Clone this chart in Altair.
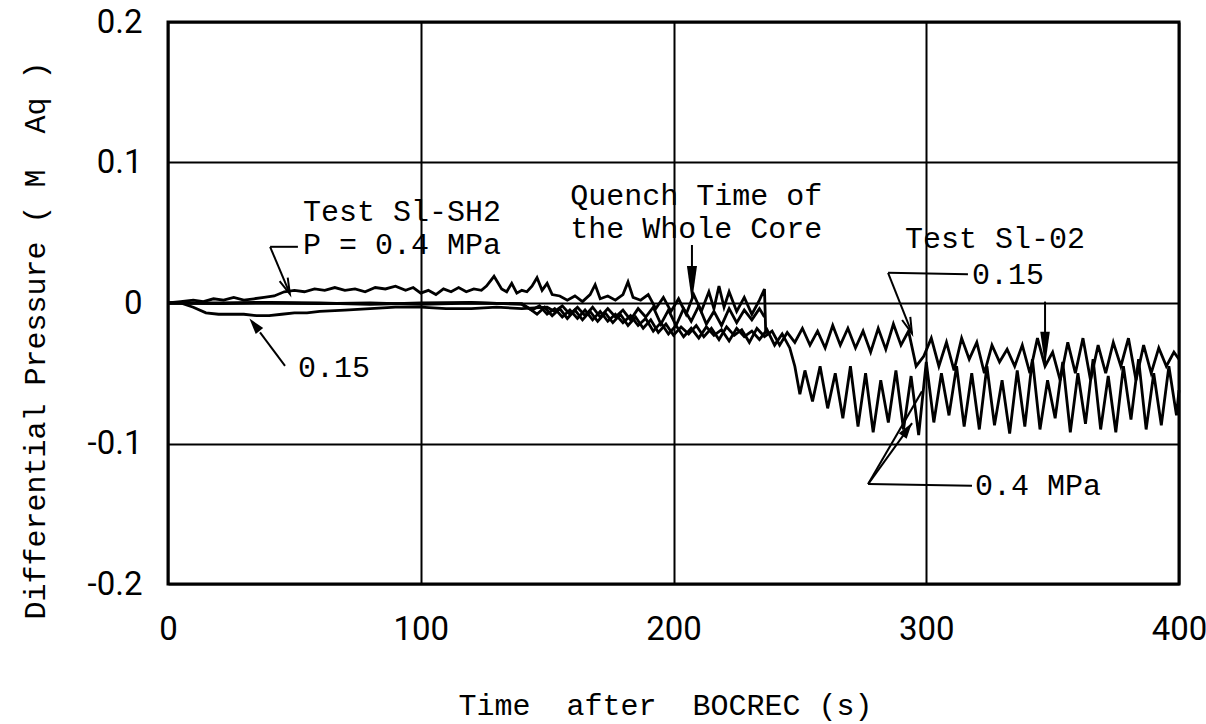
import altair as alt
import pandas as pd

# Differential pressure traces, (time s, pressure m Aq)
SH2_P04 = [
    (0, 0.0), (5, 0.001), (10, 0.002), (14, 0.001), (18, 0.003), (22, 0.002), (26, 0.004),
    (30, 0.002), (34, 0.003), (38, 0.004), (42, 0.005), (46, 0.008), (50, 0.009), (54, 0.008),
    (58, 0.010), (62, 0.009), (66, 0.011), (70, 0.009), (74, 0.010), (78, 0.008), (82, 0.011),
    (86, 0.010), (90, 0.012), (94, 0.009), (97, 0.011), (100, 0.007), (103, 0.009), (106, 0.006),
    (109, 0.010), (112, 0.008), (115, 0.011), (118, 0.008), (121, 0.010), (124, 0.009),
    (126, 0.012), (129, 0.019), (132, 0.010), (134, 0.008), (136, 0.014), (138, 0.007),
    (140, 0.009), (142, 0.008), (144, 0.012), (146, 0.018), (148, 0.009), (150, 0.014),
    (152, 0.006), (155, 0.005), (158, 0.002), (161, 0.005), (164, 0.001), (167, 0.006),
    (169, 0.013), (171, 0.003), (174, 0.005), (177, 0.002), (180, 0.006), (182, 0.015),
    (184, 0.004), (187, 0.002), (190, 0.006), (193, -0.004), (196, 0.004), (199, -0.006),
    (202, 0.003), (205, -0.008), (208, 0.006), (211, -0.006), (214, 0.008), (216, -0.004),
    (218, 0.012), (220, -0.003), (222, 0.008), (225, -0.006), (228, 0.004), (231, -0.008),
    (234, 0.002), (236, 0.010), (236.5, -0.022),
]

SH2_P015 = [
    (0, 0.0), (5, 0.0), (10, -0.003), (15, -0.007), (20, -0.008), (25, -0.008), (30, -0.008),
    (35, -0.009), (40, -0.009), (45, -0.008), (50, -0.007), (55, -0.007), (60, -0.006),
    (70, -0.005), (80, -0.004), (90, -0.003), (100, -0.003), (110, -0.004), (120, -0.004),
    (130, -0.003), (140, -0.004), (150, -0.003), (153, -0.006), (156, -0.002), (159, -0.008),
    (162, -0.003), (165, -0.009), (168, -0.003), (171, -0.010), (174, -0.004), (177, -0.010),
    (180, -0.005), (183, -0.012), (186, -0.004), (189, -0.010), (192, -0.003), (195, -0.015),
    (198, -0.005), (201, -0.016), (204, -0.004), (207, -0.013), (210, -0.002), (213, -0.015),
    (216, -0.006), (219, -0.016), (222, -0.004), (225, -0.014), (228, -0.005), (231, -0.012),
    (234, -0.004), (236, -0.010),
]

S102_P015 = [
    (0, 0.0), (20, -0.0005), (40, 0.0), (60, -0.0005), (80, 0.0), (100, -0.001), (120, 0.0),
    (140, -0.0005), (143, -0.004), (146, -0.008), (149, -0.003), (152, -0.009), (155, -0.004),
    (158, -0.011), (161, -0.005), (164, -0.012), (167, -0.006), (170, -0.013), (173, -0.007),
    (176, -0.014), (179, -0.008), (182, -0.016), (185, -0.010), (188, -0.018), (191, -0.012),
    (194, -0.021), (197, -0.015), (200, -0.023), (203, -0.017), (206, -0.022), (209, -0.016),
    (212, -0.024), (215, -0.018), (218, -0.026), (221, -0.017), (224, -0.023), (227, -0.019),
    (230, -0.028), (233, -0.018), (236, -0.024), (239, -0.020), (242, -0.030), (245, -0.021),
    (248, -0.028), (251, -0.018), (254, -0.030), (257, -0.020), (260, -0.032), (263, -0.016),
    (266, -0.030), (269, -0.018), (272, -0.032), (275, -0.020), (278, -0.035), (281, -0.018),
    (284, -0.033), (287, -0.015), (290, -0.030), (293, -0.020), (296, -0.045), (299, -0.038),
    (302, -0.025), (305, -0.045), (308, -0.028), (311, -0.048), (314, -0.025), (317, -0.040),
    (320, -0.028), (323, -0.050), (326, -0.030), (329, -0.042), (332, -0.033), (335, -0.045),
    (338, -0.030), (341, -0.050), (344, -0.025), (347, -0.045), (350, -0.035), (353, -0.055),
    (356, -0.028), (359, -0.050), (362, -0.025), (365, -0.055), (368, -0.030), (371, -0.050),
    (374, -0.028), (377, -0.045), (380, -0.025), (383, -0.055), (386, -0.030), (389, -0.050),
    (392, -0.032), (395, -0.045), (398, -0.035), (400, -0.040),
]

S102_P04 = [
    (0, 0.0), (20, 0.0), (40, 0.0005), (60, 0.0), (80, -0.001), (100, 0.0), (120, 0.0005),
    (140, -0.001), (144, -0.005), (147, -0.002), (150, -0.008), (153, -0.004), (156, -0.010),
    (159, -0.005), (162, -0.011), (165, -0.005), (168, -0.012), (171, -0.006), (174, -0.013),
    (177, -0.008), (180, -0.014), (183, -0.009), (186, -0.016), (189, -0.011), (192, -0.020),
    (195, -0.014), (198, -0.022), (201, -0.016), (204, -0.024), (207, -0.018), (210, -0.025),
    (213, -0.017), (216, -0.023), (219, -0.019), (222, -0.027), (225, -0.018), (228, -0.024),
    (231, -0.020), (234, -0.026), (237, -0.019), (240, -0.030), (243, -0.022), (246, -0.032),
    (248, -0.045), (250, -0.065), (252, -0.048), (255, -0.070), (258, -0.045), (261, -0.075),
    (264, -0.050), (267, -0.082), (270, -0.045), (273, -0.088), (276, -0.050), (279, -0.092),
    (282, -0.055), (285, -0.085), (288, -0.048), (291, -0.090), (294, -0.052), (297, -0.094),
    (300, -0.042), (303, -0.085), (306, -0.050), (309, -0.080), (312, -0.045), (315, -0.088),
    (318, -0.050), (321, -0.090), (324, -0.045), (327, -0.087), (330, -0.055), (333, -0.093),
    (336, -0.048), (339, -0.088), (342, -0.040), (345, -0.090), (348, -0.055), (351, -0.082),
    (354, -0.042), (357, -0.092), (360, -0.050), (363, -0.086), (366, -0.040), (369, -0.090),
    (372, -0.052), (375, -0.092), (378, -0.045), (381, -0.083), (384, -0.040), (387, -0.090),
    (390, -0.050), (393, -0.087), (396, -0.045), (399, -0.080), (400, -0.062),
]

# Annotation text: (label, time, pressure) at the left end of each label
LABELS = [
    ("Test Sl-SH2", 53.4, 0.065),
    ("P = 0.4 MPa", 53.4, 0.041),
    ("0.15", 51.4, -0.046),
    ("Quench Time of", 159.1, 0.076),
    ("the Whole Core", 159.1, 0.0526),
    ("Test Sl-02", 291.6, 0.0455),
    ("0.15", 318.1, 0.0200),
    ("0.4 MPa", 319.3, -0.130),
]

# Leader lines: (t1, v1, t2, v2)
LEADERS = [
    (40.4, 0.040, 51.4, 0.040),
    (40.4, 0.040, 48.0, 0.0075),
    (46.3, -0.0447, 36.4, -0.0209),
    (207.3, 0.0413, 207.3, 0.003),
    (284.9, 0.0215, 316.5, 0.0205),
    (284.9, 0.0215, 294.4, -0.0216),
    (347.0, 0.001, 347.0, -0.044),
    (277.0, -0.1289, 318.1, -0.1301),
    (277.0, -0.1289, 294.4, -0.0855),
    (277.0, -0.1289, 298.3, -0.0629),
]

# Arrowheads: (t, v, angle, size, kind)
ARROWS = [
    (47.0, 0.0116, 157, 256, "open"),
    (34.2, -0.0155, 321, 256, "wide"),
    (207.3, 0.0136, 180, 1296, "narrow"),
    (293.2, -0.0163, 159, 256, "open"),
    (347.0, -0.0325, 180, 1156, "narrow"),
    (292.5, -0.0900, 35, 256, "wide"),
]

series = {
    "S1-SH2 0.4 MPa": SH2_P04,
    "S1-SH2 0.15 MPa": SH2_P015,
    "S1-02 0.15 MPa": S102_P015,
    "S1-02 0.4 MPa": S102_P04,
}
traces = pd.DataFrame(
    [{"series": k, "t": t, "v": v} for k, pts in series.items() for t, v in pts]
)
labels = pd.DataFrame(LABELS, columns=["text", "t", "v"])
leaders = pd.DataFrame(LEADERS, columns=["t", "v", "t2", "v2"])
arrows = pd.DataFrame(ARROWS, columns=["t", "v", "angle", "size", "kind"])

MONO = "Liberation Mono"
NUM = "Roboto"
NBSP = "\u00a0"

xs = alt.Scale(domain=[0, 400], nice=False, zero=False)
ys = alt.Scale(domain=[-0.2, 0.2], nice=False, zero=False)

x_axis = alt.Axis(
    values=[0, 100, 200, 300, 400], grid=True, gridColor="black", gridWidth=2,
    gridOpacity=1, ticks=False, domain=False, labelFont=NUM, labelFontSize=33,
    labelColor="black", labelPadding=29, labelFlush=False,
    title=f"Time{NBSP*2}after{NBSP*2}BOCREC (s)", titleFont=MONO, titleFontSize=30,
    titleFontWeight="normal", titleColor="black", titleX=497, titleY=121,
    titleBaseline="middle", titleAlign="center",
)
y_axis = alt.Axis(
    values=[-0.2, -0.1, 0, 0.1, 0.2], grid=True, gridColor="black", gridWidth=2,
    gridOpacity=1, ticks=False, domain=False, labelFont=NUM, labelFontSize=33,
    labelColor="black", labelPadding=26, labelBaseline="middle",
    labelExpr="datum.value == 0 ? '0' : (datum.value < 0 ? '-' + format(-datum.value, '.1f') : format(datum.value, '.1f'))",
    title=f"Differential Pressure ( M{NBSP*2}Aq )", titleFont=MONO,
    titleFontSize=30, titleFontWeight="normal", titleColor="black",
    titleX=-133, titleY=318, titleAngle=270, titleBaseline="middle", titleAlign="center",
)

lines = alt.Chart(traces).mark_line(color="black", strokeWidth=2.8).encode(
    x=alt.X("t:Q", scale=xs, axis=x_axis),
    y=alt.Y("v:Q", scale=ys, axis=y_axis),
    detail="series:N",
    order="t:Q",
)

leader_rules = alt.Chart(leaders).mark_rule(color="black", strokeWidth=2).encode(
    x=alt.X("t:Q", scale=xs), y=alt.Y("v:Q", scale=ys),
    x2="t2:Q", y2="v2:Q",
)

shape_scale = alt.Scale(
    domain=["wide", "narrow", "open"],
    range=["M0,-1L0.6,1L-0.6,1Z", "M0,-1L0.28,1L-0.28,1Z", "M-0.55,1L0,-1L0.55,1"],
)
heads_filled = alt.Chart(arrows).transform_filter(
    "datum.kind != 'open'"
).mark_point(filled=True, color="black", opacity=1).encode(
    x=alt.X("t:Q", scale=xs), y=alt.Y("v:Q", scale=ys),
    shape=alt.Shape("kind:N", scale=shape_scale, legend=None),
    angle=alt.Angle("angle:Q", scale=None),
    size=alt.Size("size:Q", scale=None),
)
heads_open = alt.Chart(arrows).transform_filter(
    "datum.kind == 'open'"
).mark_point(filled=False, color="black", strokeWidth=2, opacity=1).encode(
    x=alt.X("t:Q", scale=xs), y=alt.Y("v:Q", scale=ys),
    shape=alt.Shape("kind:N", scale=shape_scale, legend=None),
    angle=alt.Angle("angle:Q", scale=None),
    size=alt.Size("size:Q", scale=None),
)

texts = alt.Chart(labels).mark_text(
    font=MONO, fontSize=30, color="black", align="left", baseline="middle"
).encode(
    x=alt.X("t:Q", scale=xs), y=alt.Y("v:Q", scale=ys), text="text:N",
)

chart = alt.layer(lines, leader_rules, heads_filled, heads_open, texts).properties(
    width=1011, height=562,
    autosize=alt.AutoSizeParams(type="none"),
    padding={"left": 168, "top": 22, "right": 27, "bottom": 140},
    background="white",
).configure_view(stroke="black", strokeWidth=3)

chart.save("out.html", embed_options={"renderer": "svg", "actions": False})
